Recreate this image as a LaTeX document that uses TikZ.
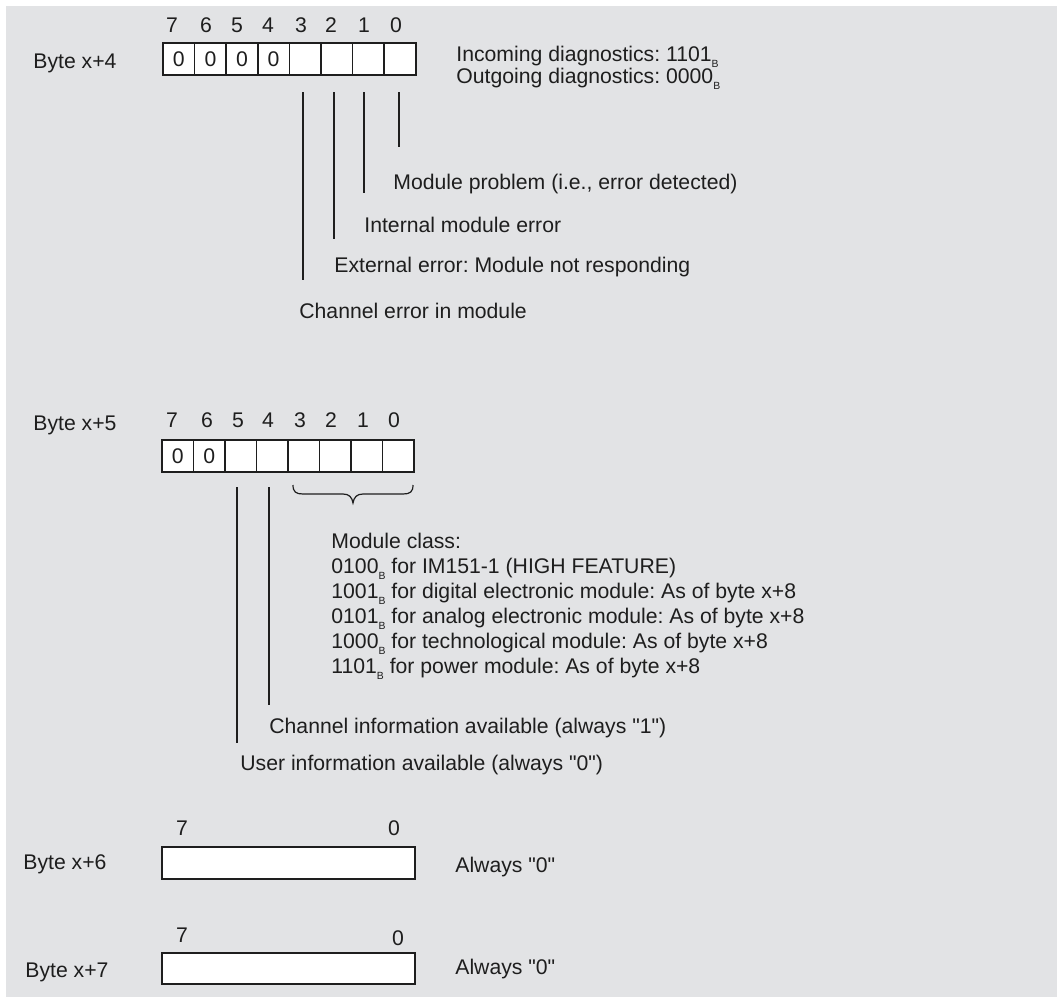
\documentclass[tikz,border=0pt]{standalone}
\usepackage{fontspec}
\setmainfont{Liberation Sans}[Ligatures=TeXOff]
\frenchspacing
\definecolor{bg}{RGB}{226,227,229}
\definecolor{ink}{RGB}{30,30,30}
\newcommand{\subB}{\raisebox{-3pt}{\fontsize{5.2}{6}\selectfont B}}
\begin{document}
\begin{tikzpicture}[x=0.5pt,y=-0.5pt,
  every node/.style={font=\fontsize{10.6}{12.6}\selectfont\frenchspacing, text=ink},
  lbl/.style={anchor=base west, inner sep=0pt},
  num/.style={anchor=base, inner sep=0pt},
  cell/.style={draw=ink, fill=white, line width=0.8pt, inner sep=0pt, minimum width=15.8pt, minimum height=16pt},
  wide/.style={draw=ink, fill=white, line width=0.8pt, inner sep=0pt, minimum width=126.5pt, minimum height=16pt},
  wire/.style={draw=ink, line width=0.7pt}]
\useasboundingbox (0,0) rectangle (1057,997);
\fill[bg] (6,6) rectangle (1057,997);

% ---------- Byte x+4 ----------
\node[lbl] (b4) at (33,68) {Byte x+4};
\foreach \i/\t in {0/0,1/0,2/0,3/0,4/,5/,6/,7/}
  \node[cell] (a\i) at ({163+31.6*(\i+0.5)},59) {\t};
\foreach \x/\n in {172/7,206/6,237/5,268/4,301/3,331/2,364/1,396/0}
  \node[num] (an\n) at (\x,32) {\n};
\node[lbl] (inc) at (456,61) {Incoming diagnostics: 1101\subB};
\node[lbl] (out) at (456,83) {Outgoing diagnostics: 0000\subB};

\coordinate (l0t) at (399,92); \coordinate (l0b) at (399,147);
\coordinate (l1t) at (364,92); \coordinate (l1b) at (364,193);
\coordinate (l2t) at (334,92); \coordinate (l2b) at (334,239);
\coordinate (l3t) at (303,92); \coordinate (l3b) at (303,280);
\foreach \k in {0,1,2,3} \draw[wire] (l\k t) -- (l\k b);

\node[lbl] (t0) at (393,189) {Module problem (i.e., error detected)};
\node[lbl] (t1) at (364,232) {Internal module error};
\node[lbl] (t2) at (334,272) {External error: Module not responding};
\node[lbl] (t3) at (299,318) {Channel error in module};

% ---------- Byte x+5 ----------
\node[lbl] (b5) at (33,430) {Byte x+5};
\foreach \i/\t in {0/0,1/0,2/,3/,4/,5/,6/,7/}
  \node[cell] (c\i) at ({162+31.5*(\i+0.5)},456) {\t};
\foreach \x/\n in {172/7,207/6,238/5,268/4,300/3,331/2,363/1,394/0}
  \node[num] (cn\n) at (\x,427) {\n};

\draw[wire, line width=0.6pt] (293,485) .. controls (293,492) and (296,494) .. (303,494)
  -- (343,494) .. controls (349,494) and (352,497) .. (353,503)
  .. controls (354,497) and (357,494) .. (363,494)
  -- (403,494) .. controls (410,494) and (413,492) .. (413,485);

\node[lbl] (m0) at (331,548) {Module class:};
\node[lbl] (m1) at (331,573) {0100\subB{} for IM151-1 (HIGH FEATURE)};
\node[lbl] (m2) at (331,598) {1001\subB{} for digital electronic module: As of byte x+8};
\node[lbl] (m3) at (331,623) {0101\subB{} for analog electronic module: As of byte x+8};
\node[lbl] (m4) at (331,648) {1000\subB{} for technological module: As of byte x+8};
\node[lbl] (m5) at (331,673) {1101\subB{} for power module: As of byte x+8};

\coordinate (k4t) at (269,487); \coordinate (k4b) at (269,705);
\coordinate (k5t) at (237,487); \coordinate (k5b) at (237,743);
\draw[wire] (k4t) -- (k4b);
\draw[wire] (k5t) -- (k5b);
\node[lbl] (ch) at (269,733) {Channel information available (always "1")};
\node[lbl] (us) at (240,770) {User information available (always "0")};

% ---------- Byte x+6 ----------
\node[lbl] (b6) at (23,869) {Byte x+6};
\node[wide] (w6) at (288.5,863) {};
\node[num] (w6a) at (182,835) {7};
\node[num] (w6b) at (394,835) {0};
\node[lbl] (z6) at (455,872) {Always "0"};

% ---------- Byte x+7 ----------
\node[lbl] (b7) at (25,977) {Byte x+7};
\node[wide, minimum height=15.5pt] (w7) at (288.5,968.5) {};
\node[num] (w7a) at (182,942) {7};
\node[num] (w7b) at (398,945) {0};
\node[lbl] (z7) at (455,974) {Always "0"};
\end{tikzpicture}
\end{document}
